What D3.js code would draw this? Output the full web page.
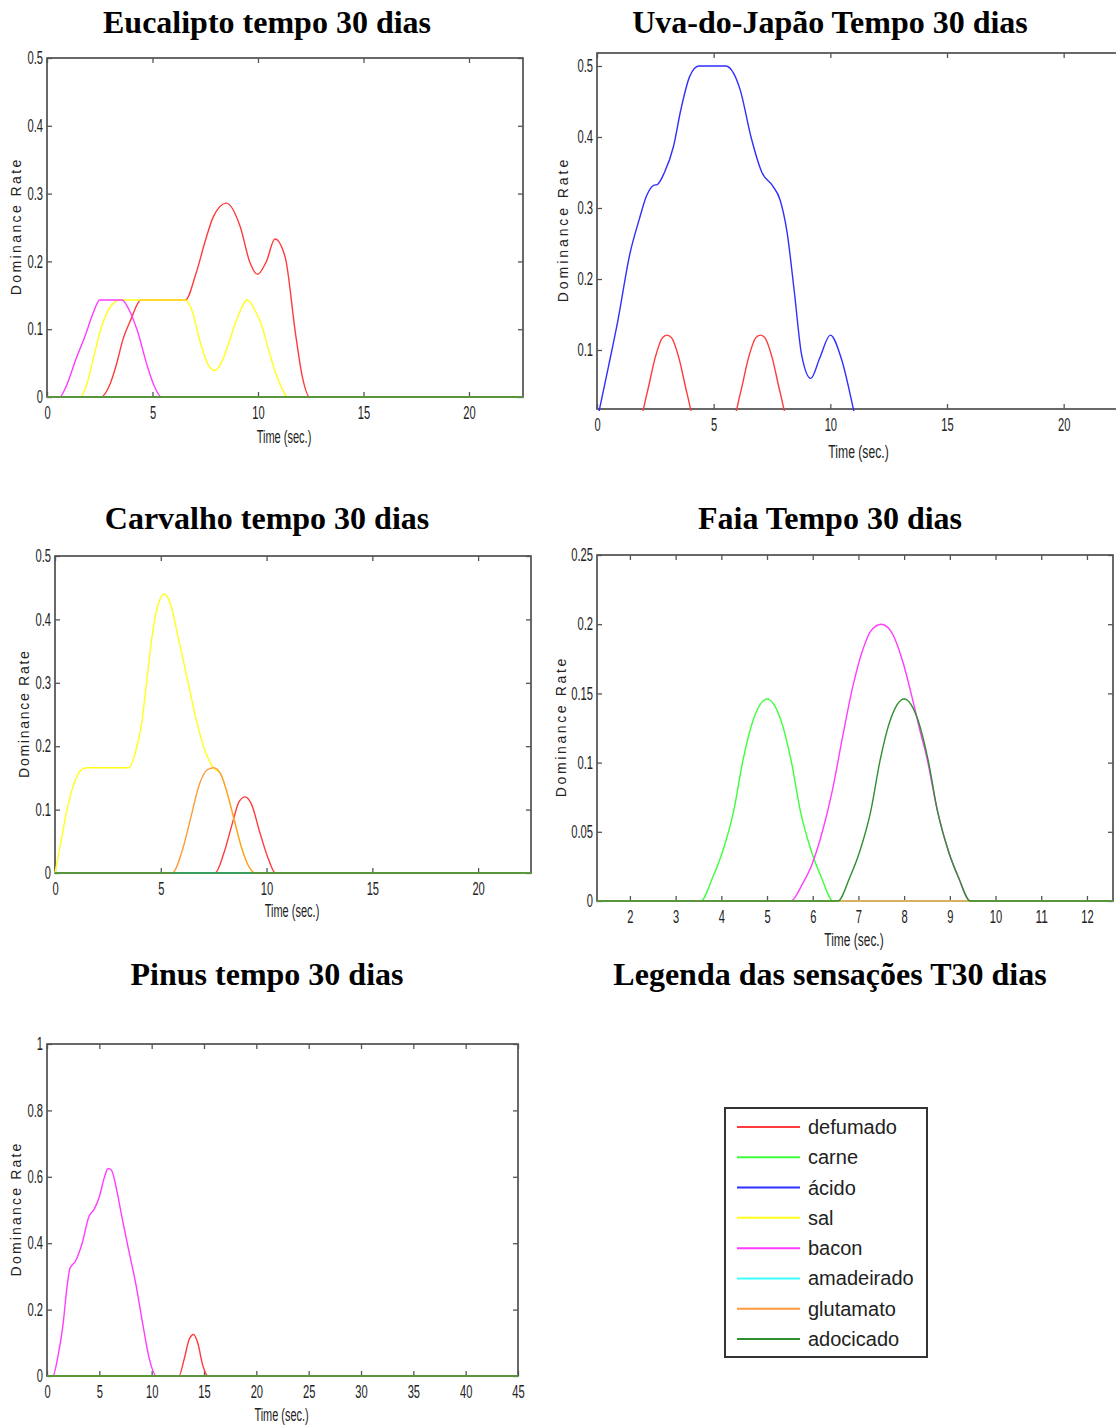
<!DOCTYPE html>
<html>
<head>
<meta charset="utf-8">
<script src="https://cdn.jsdelivr.net/npm/d3@7"></script>
<style>
  body { margin: 0; background: #fff; }
  svg { display: block; }
</style>
</head>
<body>
<svg id="chart" width="1116" height="1426"></svg>
<script>
// sensations (legend order = draw order) and their line colours
const sensacoes = ["defumado", "carne", "ácido", "sal", "bacon", "amadeirado", "glutamato", "adocicado"];
const cores = ["#ff3b3b", "#3dff3d", "#2f2fff", "#ffff1a", "#ff3dff", "#3dffff", "#ff9a3d", "#2f8f2f"];

// tick labels
const ticksX22 = [0, 5, 10, 15, 20];
const ticksY05 = [0, 0.1, 0.2, 0.3, 0.4, 0.5];
const ticksYUva = [0.1, 0.2, 0.3, 0.4, 0.5];
const ticksXFaia = [2, 3, 4, 5, 6, 7, 8, 9, 10, 11, 12];
const ticksYFaia = [0, 0.05, 0.1, 0.15, 0.2, 0.25];
const ticksXPinus = [0, 5, 10, 15, 20, 25, 30, 35, 40, 45];
const ticksYPinus = [0, 0.2, 0.4, 0.6, 0.8, 1];

// Eucalipto tempo 30 dias  [time, dominance rate]
const eucDefumado = [[2.55, 0], [3.0, 0.02], [3.3, 0.049], [3.6, 0.085], [3.96, 0.113], [4.45, 0.143], [6.56, 0.143],
  [7.05, 0.181], [7.5, 0.23], [7.87, 0.265], [8.5, 0.286], [9.17, 0.25], [9.6, 0.2], [9.98, 0.181], [10.4, 0.2],
  [10.8, 0.233], [11.29, 0.206], [11.78, 0.093], [12.1, 0.03], [12.45, 0]];
const eucSal = [[1.55, 0], [1.9, 0.02], [2.25, 0.064], [2.6, 0.105], [2.98, 0.132], [3.47, 0.143], [6.56, 0.143],
  [6.9, 0.125], [7.2, 0.088], [7.6, 0.05], [7.95, 0.039], [8.25, 0.05], [8.5, 0.069], [9.0, 0.115], [9.5, 0.143],
  [9.9, 0.125], [10.15, 0.108], [10.5, 0.07], [10.8, 0.039], [11.1, 0.015], [11.42, 0]];
const eucBacon = [[0.6, 0], [0.9, 0.015], [1.35, 0.054], [1.84, 0.093], [2.2, 0.125], [2.5, 0.143], [3.55, 0.143],
  [3.9, 0.128], [4.28, 0.098], [4.77, 0.044], [5.1, 0.015], [5.42, 0]];

// Uva-do-Japão Tempo 30 dias
const uvaDefumado = [[1.8, 0], [2.15, 0.04], [2.5, 0.09], [2.8, 0.117], [3.0, 0.121], [3.2, 0.117], [3.5, 0.09],
  [3.85, 0.04], [4.2, 0], [5.8, 0], [6.15, 0.04], [6.5, 0.09], [6.8, 0.117], [7.0, 0.121], [7.2, 0.117],
  [7.5, 0.09], [7.85, 0.04], [8.2, 0]];
const uvaAcido = [[0, 0], [0.5, 0.078], [0.88, 0.139], [1.42, 0.237], [1.81, 0.284], [2.12, 0.317], [2.43, 0.332],
  [2.58, 0.333], [2.89, 0.35], [3.28, 0.387], [3.59, 0.438], [3.97, 0.485], [4.36, 0.5], [5.52, 0.5], [5.85, 0.49],
  [6.14, 0.466], [6.6, 0.4], [7.07, 0.35], [7.53, 0.331], [7.84, 0.312], [8.15, 0.265], [8.46, 0.181], [8.77, 0.093],
  [9.16, 0.06], [9.54, 0.088], [10.0, 0.121], [10.47, 0.088], [11.0, 0.015], [11.1, 0]];

// Carvalho tempo 30 dias
const carDefumado = [[7.57, 0], [7.98, 0.031], [8.39, 0.079], [8.71, 0.113], [8.99, 0.12], [9.28, 0.109],
  [9.69, 0.063], [10.1, 0.021], [10.42, 0]];
const carSal = [[0, 0], [0.24, 0.042], [0.57, 0.1], [0.9, 0.141], [1.22, 0.162], [1.47, 0.166], [3.5, 0.166],
  [3.83, 0.194], [4.07, 0.23], [4.32, 0.298], [4.56, 0.366], [4.8, 0.414], [5.18, 0.44], [5.46, 0.424], [5.86, 0.366],
  [6.27, 0.304], [6.68, 0.241], [7.08, 0.194], [7.49, 0.166], [7.82, 0.157], [8.14, 0.126], [8.47, 0.084],
  [8.8, 0.042], [9.12, 0.013], [9.45, 0]];
const carGlutamato = [[5.54, 0], [6.03, 0.037], [6.43, 0.089], [6.84, 0.141], [7.17, 0.162], [7.49, 0.166],
  [7.82, 0.157], [8.14, 0.126], [8.47, 0.084], [8.8, 0.042], [9.12, 0.013], [9.45, 0]];

// Faia Tempo 30 dias
const faiCarne = [[3.55, 0], [3.81, 0.017], [4.03, 0.036], [4.27, 0.065], [4.47, 0.101], [4.69, 0.13], [5.0, 0.146],
  [5.31, 0.13], [5.53, 0.101], [5.73, 0.065], [5.97, 0.036], [6.19, 0.017], [6.45, 0]];
const faiBacon = [[5.52, 0], [5.77, 0.012], [5.99, 0.027], [6.21, 0.05], [6.43, 0.08], [6.65, 0.118], [6.87, 0.154],
  [7.09, 0.181], [7.27, 0.195], [7.5, 0.2], [7.71, 0.195], [7.97, 0.173], [8.19, 0.145], [8.37, 0.12], [8.48, 0.106],
  [8.73, 0.065], [8.97, 0.036], [9.19, 0.017], [9.45, 0]];
const faiAdocicado = [[6.55, 0], [6.81, 0.017], [7.03, 0.036], [7.27, 0.065], [7.47, 0.101], [7.69, 0.13], [8.0, 0.146],
  [8.31, 0.13], [8.53, 0.101], [8.73, 0.065], [8.97, 0.036], [9.19, 0.017], [9.45, 0]];

// Pinus tempo 30 dias
const pinDefumado = [[12.6, 0], [13.1, 0.05], [13.58, 0.11], [14.0, 0.125], [14.4, 0.1], [14.9, 0.03], [15.4, 0]];
const pinBacon = [[0.56, 0], [1.05, 0.06], [1.55, 0.16], [1.88, 0.26], [2.2, 0.325], [2.7, 0.345], [3.36, 0.4],
  [4.0, 0.48], [4.5, 0.502], [5.0, 0.54], [5.5, 0.6], [5.83, 0.625], [6.16, 0.62], [6.66, 0.56], [7.15, 0.48],
  [7.8, 0.38], [8.47, 0.28], [9.13, 0.16], [9.79, 0.05], [10.45, 0]];

// one entry per sensation, null = stays at zero the whole time
const eucSeries = [eucDefumado, null, null, eucSal, eucBacon, null, null, null];
const uvaSeries = [uvaDefumado, null, uvaAcido, null, null, null, null, null];
const carSeries = [carDefumado, null, null, carSal, null, null, carGlutamato, null];
const faiSeries = [null, faiCarne, null, null, faiBacon, null, null, faiAdocicado];
const pinSeries = [pinDefumado, null, null, null, pinBacon, null, null, null];

const svg = d3.select("#chart");
svg.append("rect").attr("width", 1116).attr("height", 1426).attr("fill", "#fff");

const panels = [
  { title: "Eucalipto tempo 30 dias", tx: 267, ty: 33, left: 47, right: 523, top: 58, bottom: 397,
    xDom: [0, 22.56], yDom: [0, 0.5], xTicks: ticksX22, yTicks: ticksY05, series: eucSeries, ylab: 31, xlab: 46 },
  { title: "Uva-do-Japão Tempo 30 dias", tx: 830, ty: 33, left: 597, right: 1122, top: 53, bottom: 409,
    xDom: [0, 22.5], yDom: [0.0169, 0.5183], xTicks: ticksX22, yTicks: ticksYUva, series: uvaSeries, ylab: 34, xlab: 49 },
  { title: "Carvalho tempo 30 dias", tx: 267, ty: 529, left: 55, right: 531, top: 556, bottom: 873,
    xDom: [0, 22.5], yDom: [0, 0.5], xTicks: ticksX22, yTicks: ticksY05, series: carSeries, ylab: 31, xlab: 44 },
  { title: "Faia Tempo 30 dias", tx: 830, ty: 529, left: 597, right: 1113, top: 555, bottom: 901,
    xDom: [1.28, 12.57], yDom: [0, 0.25], xTicks: ticksXFaia, yTicks: ticksYFaia, series: faiSeries, ylab: 36, xlab: 45 },
  { title: "Pinus tempo 30 dias", tx: 267, ty: 985, left: 47, right: 518, top: 1044, bottom: 1376,
    xDom: [0, 45], yDom: [0, 1], xTicks: ticksXPinus, yTicks: ticksYPinus, series: pinSeries, ylab: 31, xlab: 45 }
];

// width of the squeezed matlab-like tick labels
function labelLen(s) {
  let w = 0;
  for (const c of s) w += (c === ".") ? 3.2 : 6.2;
  return w;
}

function fullSeries(pts, dom) {
  if (!pts) return [[dom[0], 0], [dom[1], 0]];
  const out = pts.slice();
  if (out[0][0] > dom[0]) out.unshift([dom[0], 0]);
  if (out[out.length - 1][0] < dom[1]) out.push([dom[1], 0]);
  return out;
}

function styleTicks(g, labels) {
  g.select(".domain").remove();
  g.selectAll(".tick line").attr("stroke", "#555").attr("stroke-width", 1.3);
  if (!labels) {
    g.selectAll(".tick text").remove();
    return;
  }
  g.selectAll(".tick text")
    .attr("fill", "#222")
    .style("font-family", "'Liberation Sans Narrow', 'Liberation Sans', sans-serif")
    .style("font-size", "18px")
    .attr("textLength", d => labelLen(String(d)))
    .attr("lengthAdjust", "spacingAndGlyphs");
}

panels.forEach((p, k) => {
  const x = d3.scaleLinear().domain(p.xDom).range([p.left, p.right]);
  const y = d3.scaleLinear().domain(p.yDom).range([p.bottom, p.top]);
  const w = p.right - p.left, h = p.bottom - p.top;

  svg.append("text")
    .attr("x", p.tx).attr("y", p.ty)
    .attr("text-anchor", "middle")
    .style("font-family", "'Liberation Serif', 'Times New Roman', serif")
    .style("font-weight", "bold")
    .style("font-size", "32px")
    .attr("fill", "#000")
    .text(p.title);

  const clipId = "clip" + k;
  svg.append("clipPath").attr("id", clipId)
    .append("rect").attr("x", p.left - 1).attr("y", p.top).attr("width", w + 2).attr("height", h + 2);

  // box
  svg.append("rect")
    .attr("x", p.left).attr("y", p.top).attr("width", w).attr("height", h)
    .attr("fill", "none").attr("stroke", "#444").attr("stroke-width", 1.6);

  // inward ticks on all four sides
  svg.append("g").attr("transform", `translate(0,${p.bottom})`)
    .call(d3.axisBottom(x).tickValues(p.xTicks).tickSize(-5).tickSizeOuter(0).tickPadding(9).tickFormat(d => String(d)))
    .call(g => styleTicks(g, true));
  svg.append("g").attr("transform", `translate(0,${p.top})`)
    .call(d3.axisTop(x).tickValues(p.xTicks).tickSize(-5).tickSizeOuter(0))
    .call(g => styleTicks(g, false));
  svg.append("g").attr("transform", `translate(${p.left},0)`)
    .call(d3.axisLeft(y).tickValues(p.yTicks).tickSize(-5).tickSizeOuter(0).tickPadding(4).tickFormat(d => String(d)))
    .call(g => styleTicks(g, true));
  svg.append("g").attr("transform", `translate(${p.right},0)`)
    .call(d3.axisRight(y).tickValues(p.yTicks).tickSize(-5).tickSizeOuter(0))
    .call(g => styleTicks(g, false));

  // curves
  const line = d3.line().x(d => x(d[0])).y(d => y(d[1])).curve(d3.curveMonotoneX);
  const lines = svg.append("g").attr("clip-path", `url(#${clipId})`);
  p.series.forEach((s, i) => {
    lines.append("path")
      .attr("d", line(fullSeries(s, p.xDom)))
      .attr("fill", "none")
      .attr("stroke", cores[i])
      .attr("stroke-width", 1.4);
  });

  // axis labels
  svg.append("text")
    .attr("x", (p.left + p.right) / 2 - 1).attr("y", p.bottom + p.xlab)
    .attr("text-anchor", "middle")
    .style("font-family", "'Liberation Sans Narrow', 'Liberation Sans', sans-serif")
    .style("font-size", "18px")
    .attr("fill", "#222")
    .attr("textLength", w * 0.115)
    .attr("lengthAdjust", "spacingAndGlyphs")
    .text("Time (sec.)");

  svg.append("text")
    .attr("transform", `translate(${p.left - p.ylab},${(p.top + p.bottom) / 2}) rotate(-90)`)
    .attr("text-anchor", "middle")
    .attr("dy", "0.35em")
    .style("font-family", "'Liberation Sans', Arial, sans-serif")
    .style("font-size", "14px")
    .attr("fill", "#222")
    .attr("textLength", h * 0.4)
    .attr("lengthAdjust", "spacing")
    .text("Dominance Rate");
});

// legend panel
svg.append("text")
  .attr("x", 830).attr("y", 985)
  .attr("text-anchor", "middle")
  .style("font-family", "'Liberation Serif', 'Times New Roman', serif")
  .style("font-weight", "bold")
  .style("font-size", "32px")
  .text("Legenda das sensações T30 dias");

const legend = svg.append("g");
legend.append("rect")
  .attr("x", 725).attr("y", 1108).attr("width", 202).attr("height", 249)
  .attr("fill", "#fff").attr("stroke", "#333").attr("stroke-width", 2);

const legY = d3.scalePoint().domain(sensacoes).range([1127, 1339]);
sensacoes.forEach((s, i) => {
  legend.append("line")
    .attr("x1", 737).attr("x2", 800)
    .attr("y1", legY(s)).attr("y2", legY(s))
    .attr("stroke", cores[i]).attr("stroke-width", 2);
  legend.append("text")
    .attr("x", 808).attr("y", legY(s) + 7)
    .style("font-family", "'Liberation Sans', Arial, sans-serif")
    .style("font-size", "20px")
    .attr("fill", "#222")
    .text(s);
});
</script>
</body>
</html>
